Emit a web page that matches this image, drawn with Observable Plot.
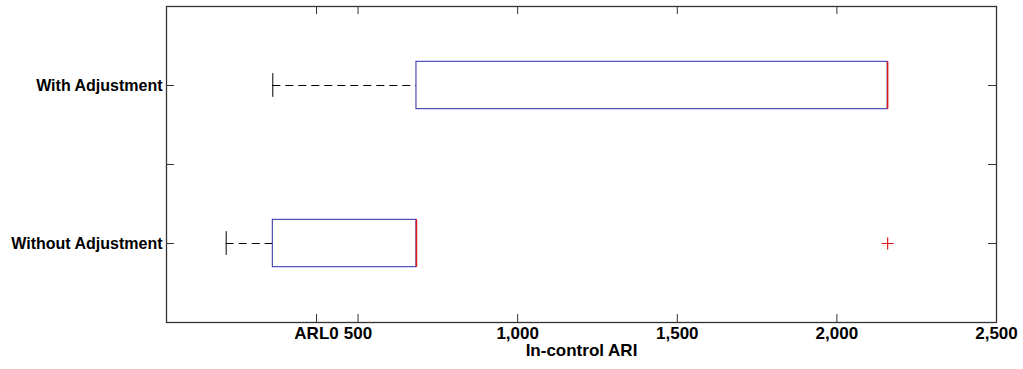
<!DOCTYPE html>
<html>
<head>
<meta charset="utf-8">
<script src="https://cdn.jsdelivr.net/npm/d3@7"></script>
<script src="https://cdn.jsdelivr.net/npm/@observablehq/plot@0.6"></script>
<style>
  html, body { margin: 0; padding: 0; background: #fff; }
  #chart svg { display: block; }
</style>
</head>
<body>
<div id="chart"></div>
<script>
// ---- Data ----
const groups = ["With Adjustment", "Without Adjustment"];
const groupPos = [2, 1];
const lowerWhisker = [233, 87];
const q1 = [683, 233];
const median = [2159, 683];
const q3 = [2159, 683];
const upperWhisker = [2159, 683];
const outlierGroup = ["Without Adjustment"];
const outlierValue = [2159];
const xTicks = [370, 500, 1000, 1500, 2000, 2500];
const xTickLabels = ["ARL0", "500", "1,000", "1,500", "2,000", "2,500"];
const yTicks = [1, 1.5, 2];
const xLabel = "In-control ARI";

// ---- Build tables ----
const boxes = groups.map((g, i) => ({
  group: g, pos: groupPos[i], lo: lowerWhisker[i], q1: q1[i],
  med: median[i], q3: q3[i], hi: upperWhisker[i]
}));
const upper = boxes.filter(d => d.hi > d.q3);
const outliers = outlierGroup.map((g, i) => ({
  pos: groupPos[groups.indexOf(g)], value: outlierValue[i]
}));

const boxHalf = 0.15;
const capHalf = 0.075;
const W = 1023, H = 369;
const mL = 166, mR = 27, mT = 6, mB = 47;
const plotW = W - mL - mR, plotH = H - mT - mB;
const tickLen = 8;
const fontX = "'Liberation Sans Narrow', 'Liberation Sans', Arial, sans-serif";
const fontY = "'Liberation Sans', Arial, sans-serif";

const chart = Plot.plot({
  width: W,
  height: H,
  marginLeft: mL,
  marginRight: mR,
  marginTop: mT,
  marginBottom: mB,
  x: { domain: [-100, 2500] },
  y: { domain: [0.5, 2.5] },
  style: { background: "#fff", color: "#000" },
  marks: [
    // inward ticks (bottom, top, left, right)
    Plot.tickX(xTicks, { x: d => d, insetTop: plotH - tickLen, stroke: "#333" }),
    Plot.tickX(xTicks, { x: d => d, insetBottom: plotH - tickLen, stroke: "#333" }),
    Plot.tickY(yTicks, { y: d => d, insetRight: plotW - tickLen, stroke: "#333" }),
    Plot.tickY(yTicks, { y: d => d, insetLeft: plotW - tickLen, stroke: "#333" }),
    // whiskers
    Plot.ruleY(boxes, { y: "pos", x1: "lo", x2: "q1", stroke: "#000", strokeDasharray: "8,5" }),
    Plot.ruleY(upper, { y: "pos", x1: "q3", x2: "hi", stroke: "#000", strokeDasharray: "8,5" }),
    Plot.ruleX(boxes, { x: "lo", y1: d => d.pos - capHalf, y2: d => d.pos + capHalf, stroke: "#000" }),
    Plot.ruleX(upper, { x: "hi", y1: d => d.pos - capHalf, y2: d => d.pos + capHalf, stroke: "#000" }),
    // boxes
    Plot.rect(boxes, { x1: "q1", x2: "q3", y1: d => d.pos - boxHalf, y2: d => d.pos + boxHalf, fill: "#fff", stroke: "#2a2aa8" }),
    // medians
    Plot.ruleX(boxes, { x: "med", y1: d => d.pos - boxHalf, y2: d => d.pos + boxHalf, stroke: "#e01818", strokeWidth: 1.5 }),
    // outliers
    Plot.dot(outliers, { x: "value", y: "pos", symbol: "plus", r: 4, stroke: "#e01818", strokeWidth: 1.2 }),
    // frame
    Plot.frame({ stroke: "#333", strokeWidth: 1.3 }),
    // axes
    Plot.axisX({
      ticks: xTicks, tickSize: 0, tickPadding: 4,
      tickFormat: d => xTickLabels[xTicks.indexOf(d)],
      fontSize: 17, fontWeight: "bold", fontFamily: fontX, label: null
    }),
    Plot.axisY({
      ticks: [1, 2], tickSize: 0, tickPadding: 4,
      tickFormat: d => groups[groupPos.indexOf(d)],
      fontSize: 16, fontWeight: "bold", fontFamily: fontY, label: null
    }),
    Plot.text([xLabel], {
      text: d => d, frameAnchor: "bottom", dy: 28, lineAnchor: "middle",
      fontSize: 17, fontWeight: "bold", fontFamily: fontX, fill: "#000"
    })
  ]
});
document.getElementById("chart").appendChild(chart);
</script>
</body>
</html>
